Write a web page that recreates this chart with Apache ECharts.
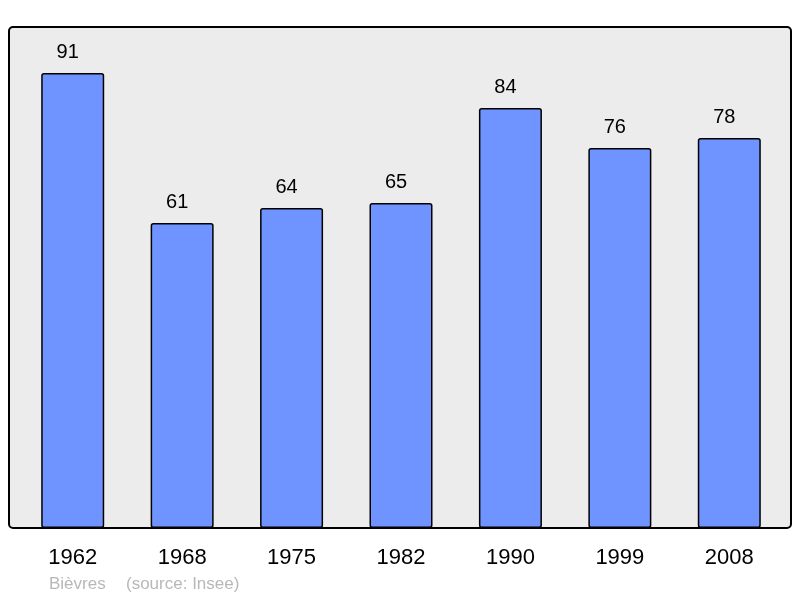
<!DOCTYPE html>
<html>
<head>
<meta charset="utf-8">
<script src="https://cdn.jsdelivr.net/npm/echarts@6/dist/echarts.min.js"></script>
<style>html,body{margin:0;padding:0;background:#fff}#c{width:800px;height:598px}</style>
</head>
<body>
<div id="c"></div>
<script>
const years = ['1962','1968','1975','1982','1990','1999','2008'];
const population = [91, 61, 64, 65, 84, 76, 78];
const placeName = 'Bièvres';
const sourceNote = '(source: Insee)';

const chart = echarts.init(document.getElementById('c'), null, {renderer: 'canvas'});
const srcFont = '17px Liberation Sans, Arial, sans-serif';
chart.setOption({
  animation: false,
  backgroundColor: '#ffffff',
  textStyle: {fontFamily: 'Liberation Sans, Arial, sans-serif'},
  graphic: [
    {type: 'rect', z: -10, shape: {x: 9, y: 27, width: 782, height: 501, r: 4},
     style: {fill: '#ececec', stroke: '#000', lineWidth: 2}},
    {type: 'text', left: 49, top: 576, style: {text: placeName, fill: '#b8b8b8', font: srcFont}},
    {type: 'text', left: 126, top: 576, style: {text: sourceNote, fill: '#b8b8b8', font: srcFont}}
  ],
  grid: {left: 18, right: 16, top: 28, bottom: 70, containLabel: false},
  xAxis: {
    type: 'category', data: years,
    axisLine: {show: false}, axisTick: {show: false},
    axisLabel: {color: '#000', fontSize: 22, margin: 19, fontFamily: 'Liberation Sans, Arial, sans-serif'}
  },
  yAxis: {type: 'value', min: 0, max: 100, show: false, splitLine: {show: false}},
  series: [{
    type: 'bar', data: population, barWidth: 63,
    itemStyle: {color: '#7094ff', borderColor: '#000', borderWidth: 1.5, borderRadius: 2},
    label: {show: true, position: 'top', distance: 11, offset: [-5, 0], color: '#000', fontSize: 20,
            fontFamily: 'Liberation Sans, Arial, sans-serif'}
  }]
});
</script>
</body>
</html>
